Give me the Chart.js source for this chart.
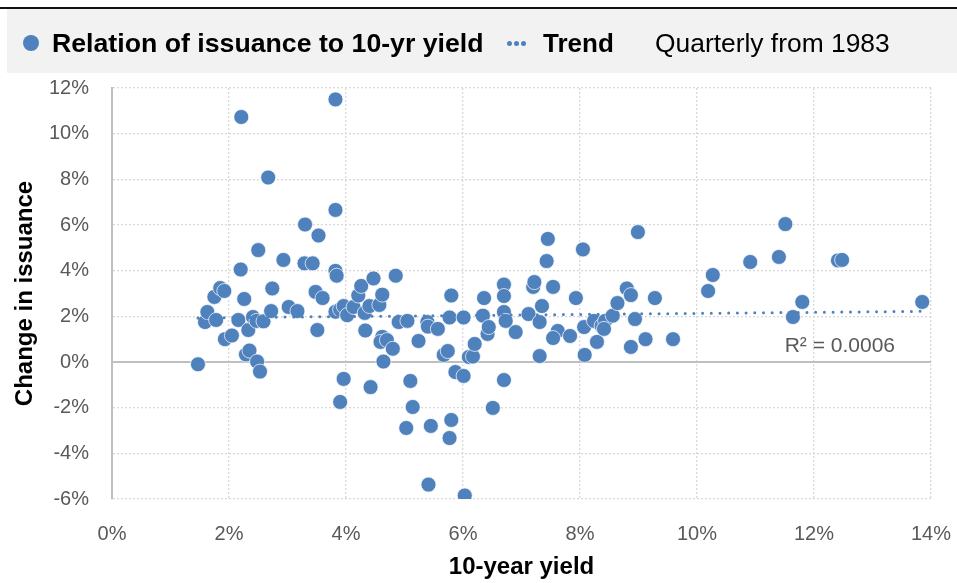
<!DOCTYPE html>
<html>
<head>
<meta charset="utf-8">
<script src="https://cdn.jsdelivr.net/npm/chart.js@4.4.1/dist/chart.umd.min.js"></script>
<style>
  html, body { margin: 0; padding: 0; background: #fff; }
  #wrap { position: relative; width: 957px; height: 583px; font-family: "Liberation Sans", Arial, sans-serif; }
  #topline { position: absolute; left: 0; top: 7px; width: 957px; height: 2px; background: #111; }
  #legend { position: absolute; left: 7px; top: 9px; width: 950px; height: 64px; background: #f2f2f2; }
  #legend span.txt { position: absolute; top: 2px; line-height: 64px; font-size: 26px; color: #000; white-space: nowrap; }
  #legend .b { font-weight: bold; }
  #legend .dot { position: absolute; background: #4f81bd; border-radius: 50%; }
  #chartBox { position: absolute; left: 0; top: 0; width: 957px; height: 583px; }
</style>
</head>
<body>
<div id="wrap">
  <div id="chartBox"><canvas id="scatter"></canvas></div>
  <div id="topline"></div>
  <div id="legend">
    <span class="dot" style="left:16px; top:26px; width:16px; height:16px;"></span>
    <span class="txt b" style="left:45px; font-size:26.7px;">Relation of issuance to 10-yr yield</span>
    <span class="dot" style="left:500px; top:32px; width:5px; height:5px;"></span>
    <span class="dot" style="left:507px; top:32px; width:5px; height:5px;"></span>
    <span class="dot" style="left:514px; top:32px; width:5px; height:5px;"></span>
    <span class="txt b" style="left:536px;">Trend</span>
    <span class="txt" style="left:648px; font-size:26.4px;">Quarterly from 1983</span>
  </div>
</div>
<script>
// 10-year yield (%), one value per quarter
const yields = [
  1.47, 1.59, 1.63, 1.75, 1.85, 1.92, 1.78, 1.93, 2.05, 2.21,
  2.20, 2.16, 2.26, 2.29, 2.35, 2.33, 2.41, 2.47, 2.50, 2.48,
  2.53, 2.59, 2.67, 2.74, 2.72, 2.93, 3.02, 3.17, 3.30, 3.29,
  3.43, 3.48, 3.53, 3.51, 3.60, 3.82, 3.82, 3.82, 3.84, 3.82,
  3.90, 3.96, 3.90, 3.96, 4.02, 4.13, 4.21, 4.26, 4.32, 4.33,
  4.40, 4.42, 4.47, 4.57, 4.62, 4.62, 4.59, 4.64, 4.70, 4.80,
  4.85, 4.90, 5.03, 5.05, 5.10, 5.14, 5.24, 5.39, 5.40, 5.41,
  5.45, 5.57, 5.67, 5.74, 5.80, 5.77, 5.80, 5.77, 5.87, 6.01,
  6.03, 6.10, 6.01, 6.17, 6.20, 6.34, 6.36, 6.42, 6.44, 6.51,
  6.70, 6.70, 6.70, 6.73, 6.70, 6.90, 7.12, 7.20, 7.22, 7.31,
  7.35, 7.31, 7.43, 7.45, 7.54, 7.62, 7.54, 7.83, 7.93, 8.05,
  8.07, 8.08, 8.24, 8.29, 8.37, 8.43, 8.41, 8.56, 8.64, 8.80,
  8.87, 8.87, 8.94, 8.99, 9.12, 9.28, 9.59, 10.19, 10.27, 10.91,
  11.40, 11.51, 11.80, 11.64, 12.41, 12.48, 13.85
];

// change in issuance (%), same order
const changes = [
  -0.10, 1.75, 2.19, 2.85, 3.24, 3.11, 1.84, 1.00, 1.16, 10.73,
  4.05, 1.84, 2.76, 0.33, 0.50, 1.40, 1.97, 1.80, 4.90, 0.02,
  -0.42, 1.78, 8.08, 3.22, 2.23, 4.47, 2.41, 2.23, 6.02, 4.32,
  4.32, 3.07, 5.54, 1.40, 2.80, 11.50, 6.66, 3.99, 3.78, 2.20,
  2.30, 2.45, -1.75, -0.74, 2.05, 2.41, 2.91, 3.33, 2.15, 1.38,
  2.45, -1.10, 3.66, 2.50, 2.95, 1.10, 0.88, 0.02, 0.96, 0.58,
  3.78, 1.75, -2.89, 1.80, -0.83, -1.97, 0.92, 1.75, 1.55, -5.37,
  -2.80, 1.45, 0.31, 0.48, 2.91, 1.95, -2.54, -3.33, -0.44, -0.61,
  -5.85, 0.22, 1.95, 0.24, 0.79, 2.03, 2.80, 1.23, 1.53, -2.01,
  3.39, 2.89, 2.19, 1.80, -0.79, 1.31, 2.10, 3.29, 3.50, 1.75,
  2.45, 0.26, 4.42, 5.39, 3.29, 1.36, 1.05, 1.14, 2.80, 4.93,
  1.53, 0.31, 1.80, 0.88, 1.58, 1.80, 1.45, 2.03, 2.58, 3.22,
  2.93, 0.66, 1.88, 5.69, 1.00, 2.80, 1.00, 3.11, 3.81, 4.38,
  4.60, 6.04, 2.63, 1.97, 4.45, 4.47, 2.63
];

const xTicks = [0, 2, 4, 6, 8, 10, 12, 14];
const yTicks = [-6, -4, -2, 0, 2, 4, 6, 8, 10, 12];
const r2Text = 'R\u00B2 = 0.0006';

const points = yields.map((x, i) => ({ x, y: changes[i] }));

// Least squares line through the points
const n = points.length;
const mx = yields.reduce((a, b) => a + b, 0) / n;
const my = changes.reduce((a, b) => a + b, 0) / n;
let sxy = 0, sxx = 0;
for (let i = 0; i < n; i++) {
  sxy += (yields[i] - mx) * (changes[i] - my);
  sxx += (yields[i] - mx) * (yields[i] - mx);
}
const slope = sxy / sxx;
const icpt = my - slope * mx;
const xMin = Math.min(...yields);
const xMax = Math.max(...yields);
const trend = [
  { x: xMin, y: icpt + slope * xMin },
  { x: xMax, y: icpt + slope * xMax }
];

const FONT = '"Liberation Sans", Arial, sans-serif';
const BLUE = '#4f81bd';

const r2Label = {
  id: 'r2Label',
  afterDatasetsDraw(chart) {
    const { ctx, chartArea, scales } = chart;
    ctx.save();
    ctx.font = '21px ' + FONT;
    ctx.fillStyle = '#595959';
    ctx.textAlign = 'right';
    ctx.textBaseline = 'alphabetic';
    ctx.fillText(r2Text, chartArea.right - 36, scales.y.getPixelForValue(0) - 10);
    ctx.restore();
  }
};

new Chart(document.getElementById('scatter'), {
  type: 'scatter',
  data: {
    datasets: [
      {
        label: 'Trend',
        type: 'line',
        data: trend,
        borderColor: BLUE,
        borderWidth: 3,
        borderDash: [0, 8.7],
        borderCapStyle: 'round',
        pointRadius: 0,
        fill: false,
        order: 0
      },
      {
        label: 'Relation of issuance to 10-yr yield',
        data: points,
        backgroundColor: BLUE,
        borderColor: 'rgba(255,255,255,0.7)',
        borderWidth: 1,
        pointRadius: 7.5,
        pointHoverRadius: 7.5,
        order: 1
      }
    ]
  },
  options: {
    responsive: true,
    maintainAspectRatio: false,
    animation: false,
    layout: { padding: { top: 88, right: 0, left: 0, bottom: 0 } },
    plugins: {
      legend: { display: false },
      tooltip: { enabled: false }
    },
    scales: {
      x: {
        type: 'linear',
        min: xTicks[0],
        max: xTicks[xTicks.length - 1],
        afterBuildTicks: s => { s.ticks = xTicks.map(v => ({ value: v })) },
        afterFit: s => { s.height = 84; s.paddingRight = 26; s.paddingLeft = 0 },
        ticks: {
          callback: v => v + '%',
          font: { family: FONT, size: 20 },
          color: '#595959',
          padding: 23
        },
        grid: { color: '#d9d9d9', lineWidth: 1.3, drawTicks: false },
        border: { display: false, dash: [2, 2] },
        title: {
          display: true,
          text: '10-year yield',
          font: { family: FONT, size: 24, weight: 'bold' },
          color: '#000',
          padding: { top: 0, bottom: 1 }
        }
      },
      y: {
        min: yTicks[0],
        max: yTicks[yTicks.length - 1],
        afterBuildTicks: s => { s.ticks = yTicks.map(v => ({ value: v })) },
        afterFit: s => { s.width = 112 },
        ticks: {
          callback: v => v + '%',
          font: { family: FONT, size: 20 },
          color: '#595959',
          padding: 23
        },
        grid: {
          color: c => (c.tick && c.tick.value === 0) ? '#bfbfbf' : '#d9d9d9',
          lineWidth: c => (c.tick && c.tick.value === 0) ? 2 : 1.3,
          drawTicks: false
        },
        border: {
          display: true,
          color: '#bfbfbf',
          width: 2,
          dash: c => (c.tick && c.tick.value === 0) ? [] : [2, 2]
        },
        title: {
          display: true,
          text: 'Change in issuance',
          font: { family: FONT, size: 24, weight: 'bold' },
          color: '#000',
          padding: { top: 11, bottom: 0 }
        }
      }
    }
  },
  plugins: [r2Label]
});
</script>
</body>
</html>
